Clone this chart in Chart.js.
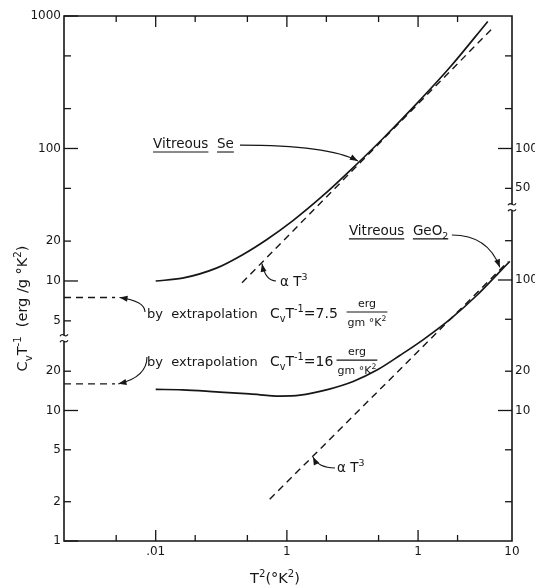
<!DOCTYPE html>
<html>
<head>
<meta charset="utf-8">
<script src="https://cdn.jsdelivr.net/npm/chart.js@4"></script>
<style>
  html, body { margin: 0; padding: 0; background: #fff; }
  #wrap { width: 535px; height: 588px; position: relative; }
</style>
</head>
<body>
<div id="wrap"><canvas id="myChart"></canvas></div>
<script>
// x: T^2 (°K^2), y: Cv/T (erg/g °K^2) -- two log panels sharing one frame
const seT2 = [0.01, 0.016, 0.029, 0.046, 0.07, 0.11, 0.19, 0.30, 0.54, 0.98, 1.75, 3.4];
const seCv = [10, 10.5, 12.5, 15.8, 20.5, 28.3, 44.4, 67.5, 119, 219, 410, 910];
const seFitT2 = [0.0455, 3.7];
const seFitCv = [9.7, 810];

const geT2 = [0.01, 0.016, 0.029, 0.052, 0.089, 0.126, 0.20, 0.32, 0.49, 0.73, 1.09, 1.75, 2.81, 4.0, 5.0];
const geCv = [14.5, 14.4, 13.9, 13.4, 12.9, 13.1, 14.4, 16.7, 20.5, 26.5, 34.8, 49.9, 76.4, 110, 139];
const geFitT2 = [0.074, 4.85];
const geFitCv = [2.09, 138];

// extrapolated T -> 0 values, drawn as short dashes off the left axis
const extrapT2 = [0.002, 0.0049];
const seExtrapCv = 7.5;
const geExtrapCv = 16;

// axis ticks
const xMinorTicks = [0.005, 0.02, 0.05, 0.2, 0.5, 2];
const xMajorTicks = [0.01, 0.1, 1];
const xLabelAt = [0.01, 0.1, 1, 5.2];
const xTickLabels = ['.01', '1', '1', '10'];

const seLeftTicks = [1000, 500, 200, 100, 50, 20, 10, 5];
const seLeftLabels = ['1000', '', '', '100', '', '20', '10', '5'];
const geLeftTicks = [20, 10, 5, 2, 1];
const geLeftLabels = ['20', '10', '5', '2', '1'];
const seRightTicks = [500, 200, 100, 50];
const seRightLabels = ['', '', '100', '50'];
const geRightTicks = [200, 100, 50, 20, 10, 5, 2];
const geRightLabels = ['', '100', '', '20', '10', '', ''];
const majorY = [1000, 100, 10, 1];
const leftBreakSe = 3.7;   // where the left axis is broken (Se scale)
const rightBreakSe = 36;   // where the right axis is broken (Se scale)

// annotations, placed in data units
const notes = [
  { text: 'Vitreous  Se', x: 0.00954, y: 110, axis: 'ySe', underline: true, size: 13.5 },
  { text: 'α T^{3}', x: 0.0886, y: 10, axis: 'ySe', size: 13.5 },
  { text: 'Vitreous  GeO_{2}', x: 0.297, y: 242, axis: 'yGe', underline: true, size: 13.5 },
  { text: 'α T^{3}', x: 0.241, y: 3.69, axis: 'yGe', size: 13.5 },
  { text: 'by  extrapolation', x: 0.00858, y: 5.73, axis: 'ySe', size: 13 },
  { text: 'C_{v}T^{-1}=7.5', x: 0.0743, y: 5.73, axis: 'ySe', size: 14 },
  { text: 'by  extrapolation', x: 0.00858, y: 23.9, axis: 'yGe', size: 13 },
  { text: 'C_{v}T^{-1}=16', x: 0.0743, y: 23.9, axis: 'yGe', size: 14 }
];
const fractions = [
  { num: 'erg', den: 'gm °K^{2}', x: 0.408, y: 5.73, axis: 'ySe' },
  { num: 'erg', den: 'gm °K^{2}', x: 0.342, y: 23.9, axis: 'yGe' }
];
const arrows = [
  { from: [0.0439, 106], to: [0.348, 80.5], axis: 'ySe', bend: 'hv' },
  { from: [0.0826, 10], to: [0.0646, 13.5], axis: 'ySe', bend: 'hv' },
  { from: [1.81, 221], to: [4.2, 125], axis: 'yGe', bend: 'hv' },
  { from: [0.2326, 3.63], to: [0.158, 4.4], axis: 'yGe', bend: 'hv' },
  { from: [0.00829, 5.83], to: [0.0053, 7.5], axis: 'ySe', bend: 'vh' },
  { from: [0.00858, 25.7], to: [0.0052, 16], axis: 'yGe', bend: 'vh' }
];

const ink = '#161616';
const FONT = '"DejaVu Sans", sans-serif';

const pts = (xs, ys) => xs.map((x, i) => ({ x: x, y: ys[i] }));

function setFont(ctx, size) { ctx.font = size + 'px ' + FONT; }

// tiny markup: ^{..} superscript, _{..} subscript
function parseRich(s) {
  const parts = [];
  const re = /([_^])\{([^}]*)\}|([^_^]+)/g;
  let m;
  while ((m = re.exec(s))) {
    if (m[3]) parts.push({ t: m[3], k: '' });
    else parts.push({ t: m[2], k: m[1] === '^' ? 'sup' : 'sub' });
  }
  return parts;
}

function richWidth(ctx, s, size) {
  let w = 0;
  parseRich(s).forEach(p => { setFont(ctx, p.k ? size * 0.7 : size); w += ctx.measureText(p.t).width; });
  return w;
}

function drawRich(ctx, s, x, y, size, align) {
  const w = richWidth(ctx, s, size);
  let cx = align === 'center' ? x - w / 2 : align === 'right' ? x - w : x;
  const x0 = cx;
  ctx.textAlign = 'left';
  ctx.textBaseline = 'alphabetic';
  const base = y + size * 0.36;
  parseRich(s).forEach(p => {
    setFont(ctx, p.k ? size * 0.7 : size);
    const dy = p.k === 'sup' ? -size * 0.45 : p.k === 'sub' ? size * 0.3 : 0;
    ctx.fillText(p.t, cx, base + dy);
    cx += ctx.measureText(p.t).width;
  });
  return { x0: x0, x1: cx };
}

function drawArrow(ctx, f, t, bend) {
  const k = 0.75;
  const c = bend === 'hv' ? { x: f.x + (t.x - f.x) * k, y: f.y } : { x: f.x, y: f.y + (t.y - f.y) * k };
  ctx.beginPath();
  ctx.moveTo(f.x, f.y);
  ctx.quadraticCurveTo(c.x, c.y, t.x, t.y);
  ctx.stroke();
  const ang = Math.atan2(t.y - c.y, t.x - c.x);
  const L = 8, W = 3;
  ctx.beginPath();
  ctx.moveTo(t.x, t.y);
  ctx.lineTo(t.x - L * Math.cos(ang) + W * Math.sin(ang), t.y - L * Math.sin(ang) - W * Math.cos(ang));
  ctx.lineTo(t.x - L * Math.cos(ang) - W * Math.sin(ang), t.y - L * Math.sin(ang) + W * Math.cos(ang));
  ctx.closePath();
  ctx.fill();
}

function drawBreak(ctx, ax, by) {
  ctx.beginPath();
  [-3, 3].forEach(d => {
    ctx.moveTo(ax - 4, by + d + 1);
    ctx.bezierCurveTo(ax - 1, by + d - 4, ax + 1, by + d + 4, ax + 4, by + d - 1);
  });
  ctx.stroke();
}

function yTicks(ctx, scale, axisX, dir, vals, labels) {
  setFont(ctx, 12);
  ctx.textBaseline = 'middle';
  ctx.textAlign = dir > 0 ? 'right' : 'left';
  vals.forEach((v, i) => {
    const py = scale.getPixelForValue(v);
    const len = majorY.includes(v) ? 14 : 7;
    ctx.beginPath();
    ctx.moveTo(axisX, py);
    ctx.lineTo(axisX + dir * len, py);
    ctx.stroke();
    if (labels[i]) ctx.fillText(labels[i], axisX - dir * 3, py);
  });
}

const framePlugin = {
  id: 'framePlugin',
  afterDraw(chart) {
    const { ctx, chartArea: a, scales } = chart;
    const xs = scales.x, se = scales.ySe;
    ctx.save();
    ctx.strokeStyle = ink;
    ctx.fillStyle = ink;
    ctx.lineCap = 'butt';

    // frame with the two axis breaks
    const lb = se.getPixelForValue(leftBreakSe);
    const rb = se.getPixelForValue(rightBreakSe);
    ctx.lineWidth = 1.6;
    ctx.beginPath();
    ctx.moveTo(a.left, lb - 3); ctx.lineTo(a.left, a.top); ctx.lineTo(a.right, a.top); ctx.lineTo(a.right, rb - 3);
    ctx.moveTo(a.right, rb + 3); ctx.lineTo(a.right, a.bottom); ctx.lineTo(a.left, a.bottom); ctx.lineTo(a.left, lb + 3);
    ctx.stroke();
    ctx.lineWidth = 1.2;
    drawBreak(ctx, a.left, lb);
    drawBreak(ctx, a.right, rb);

    // x ticks, bottom and top
    ctx.lineWidth = 1.3;
    xMinorTicks.concat(xMajorTicks).forEach(v => {
      const px = xs.getPixelForValue(v);
      const len = xMajorTicks.includes(v) ? 11 : 6;
      ctx.beginPath();
      ctx.moveTo(px, a.bottom); ctx.lineTo(px, a.bottom - len);
      ctx.moveTo(px, a.top); ctx.lineTo(px, a.top + len);
      ctx.stroke();
    });
    setFont(ctx, 12);
    ctx.textAlign = 'center';
    ctx.textBaseline = 'middle';
    xLabelAt.forEach((v, i) => ctx.fillText(xTickLabels[i], xs.getPixelForValue(v), a.bottom + 11));

    // y ticks, four half-axes
    yTicks(ctx, se, a.left, 1, seLeftTicks, seLeftLabels);
    yTicks(ctx, scales.yGe, a.left, 1, geLeftTicks, geLeftLabels);
    yTicks(ctx, se, a.right, -1, seRightTicks, seRightLabels);
    yTicks(ctx, scales.yGe, a.right, -1, geRightTicks, geRightLabels);

    // axis titles
    drawRich(ctx, 'T^{2}(°K^{2})', (a.left + a.right) / 2 - 13, a.bottom + 37, 14.5, 'center');
    ctx.save();
    ctx.translate(a.left - 42, (a.top + a.bottom) / 2 + 30);
    ctx.rotate(-Math.PI / 2);
    drawRich(ctx, 'C_{v}T^{-1}  (erg /g °K^{2})', 0, 0, 14.5, 'center');
    ctx.restore();

    // labels
    ctx.lineWidth = 1.1;
    notes.forEach(n => {
      const px = xs.getPixelForValue(n.x), py = scales[n.axis].getPixelForValue(n.y);
      let cx = px;
      n.text.split('  ').forEach(word => {
        const r = drawRich(ctx, word, cx, py, n.size, 'left');
        if (n.underline) {
          ctx.beginPath(); ctx.moveTo(r.x0, py + 9); ctx.lineTo(r.x1, py + 9); ctx.stroke();
        }
        setFont(ctx, n.size);
        cx = r.x1 + ctx.measureText('  ').width;
      });
    });
    fractions.forEach(f => {
      const px = xs.getPixelForValue(f.x), py = scales[f.axis].getPixelForValue(f.y);
      const w = Math.max(richWidth(ctx, f.num, 11), richWidth(ctx, f.den, 11)) + 2;
      drawRich(ctx, f.num, px, py - 10, 11, 'center');
      drawRich(ctx, f.den, px, py + 9, 11, 'center');
      ctx.beginPath(); ctx.moveTo(px - w / 2, py - 1); ctx.lineTo(px + w / 2, py - 1); ctx.stroke();
    });
    arrows.forEach(ar => {
      const ys = scales[ar.axis];
      drawArrow(ctx,
        { x: xs.getPixelForValue(ar.from[0]), y: ys.getPixelForValue(ar.from[1]) },
        { x: xs.getPixelForValue(ar.to[0]), y: ys.getPixelForValue(ar.to[1]) },
        ar.bend);
    });
    ctx.restore();
  }
};

const solid = { borderColor: ink, borderWidth: 1.7, pointRadius: 0, showLine: true, fill: false, cubicInterpolationMode: 'monotone' };
const dashed = { borderColor: ink, borderWidth: 1.4, pointRadius: 0, showLine: true, fill: false, borderDash: [7, 5] };

new Chart(document.getElementById('myChart'), {
  type: 'scatter',
  data: {
    datasets: [
      Object.assign({ label: 'Vitreous Se', data: pts(seT2, seCv), yAxisID: 'ySe' }, solid),
      Object.assign({ label: 'Se T^3', data: pts(seFitT2, seFitCv), yAxisID: 'ySe' }, dashed),
      Object.assign({ label: 'Se extrapolation', data: pts(extrapT2, extrapT2.map(() => seExtrapCv)), yAxisID: 'ySe' }, dashed),
      Object.assign({ label: 'Vitreous GeO2', data: pts(geT2, geCv), yAxisID: 'yGe' }, solid),
      Object.assign({ label: 'GeO2 T^3', data: pts(geFitT2, geFitCv), yAxisID: 'yGe' }, dashed),
      Object.assign({ label: 'GeO2 extrapolation', data: pts(extrapT2, extrapT2.map(() => geExtrapCv)), yAxisID: 'yGe' }, dashed)
    ]
  },
  options: {
    responsive: true,
    maintainAspectRatio: false,
    animation: false,
    layout: { padding: { left: 64, right: 23, top: 16, bottom: 47 } },
    plugins: { legend: { display: false }, tooltip: { enabled: false } },
    scales: {
      x: { type: 'logarithmic', min: 0.002, max: 5.2, display: false },
      ySe: { type: 'logarithmic', position: 'left', min: 0.109, max: 1000, display: false },
      yGe: { type: 'logarithmic', position: 'left', min: 1, max: 10540, display: false }
    }
  },
  plugins: [framePlugin]
});
</script>
</body>
</html>
